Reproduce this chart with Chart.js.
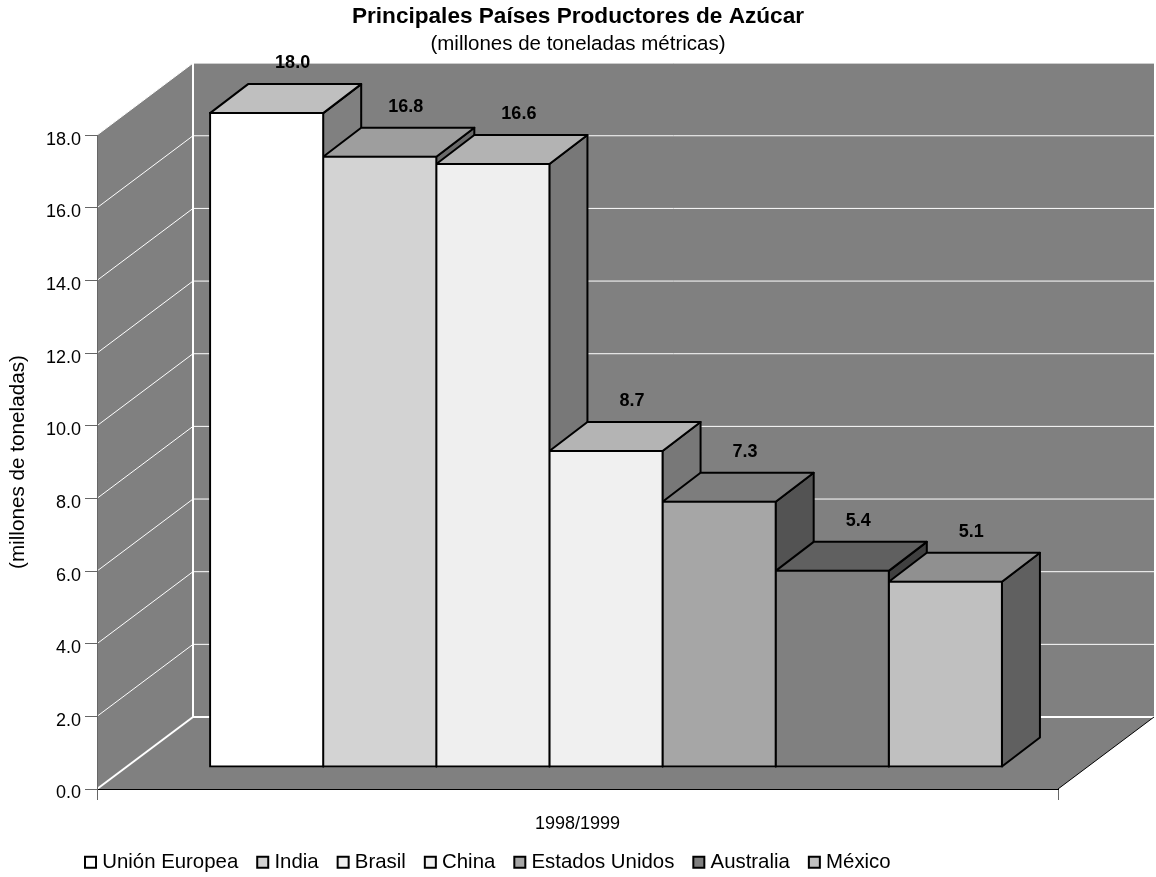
<!DOCTYPE html>
<html lang="es">
<head>
    <meta charset="UTF-8">
    <title>Principales Países Productores de Azúcar</title>
    <style>
        body { margin: 0; padding: 0; background-color: #ffffff; }
        canvas { display: block; }
    </style>
    <script src="https://cdn.jsdelivr.net/npm/chart.js"></script>
</head>
<body>
    <canvas id="sugarChart" width="1156" height="877"></canvas>

    <script>
        // Values
        const categories = ['1998/1999'];
        const countries = ['Unión Europea', 'India', 'Brasil', 'China', 'Estados Unidos', 'Australia', 'México'];
        const production = [18.0, 16.8, 16.6, 8.7, 7.3, 5.4, 5.1];
        const barColors = ['#ffffff', '#d3d3d3', '#efefef', '#f0f0f0', '#a6a6a6', '#808080', '#c0c0c0'];
        const yMin = 0;
        const yMax = 18;
        const yStep = 2;

        const FONT = "'Liberation Sans', Arial, sans-serif";

        // Depth of the fake 3D box and where the bars sit inside it
        const wallDX = 96, wallDY = 72;
        const barShiftX = 28.5, barShiftY = 22;
        const barDepthX = 38, barDepthY = 29;

        function shade(hex, f) {
            const n = parseInt(hex.slice(1), 16);
            const r = Math.round((n >> 16 & 255) * f);
            const g = Math.round((n >> 8 & 255) * f);
            const b = Math.round((n & 255) * f);
            return `rgb(${r},${g},${b})`;
        }

        function poly(ctx, pts, fill, stroke, lineWidth) {
            ctx.beginPath();
            pts.forEach((p, i) => i ? ctx.lineTo(p[0], p[1]) : ctx.moveTo(p[0], p[1]));
            ctx.closePath();
            if (fill) { ctx.fillStyle = fill; ctx.fill(); }
            if (stroke) { ctx.strokeStyle = stroke; ctx.lineWidth = lineWidth; ctx.stroke(); }
        }

        function line(ctx, x1, y1, x2, y2, color, lineWidth) {
            ctx.beginPath();
            ctx.moveTo(x1, y1);
            ctx.lineTo(x2, y2);
            ctx.strokeStyle = color;
            ctx.lineWidth = lineWidth;
            ctx.stroke();
        }

        const box3d = {
            id: 'box3d',
            afterLayout(chart) {
                // legend sits lower and further left than the default layout puts it
                chart.legend.left = 66;
                chart.legend.top = 829;
                // titles stay centred on the page, not on the padded area
                chart.boxes.filter(b => b.position === 'top').forEach(b => { b.right = chart.width; });
                // the tick label is clipped to the scale box, so let the box run on down
                chart.scales.x.bottom = chart.height;
            },
            // walls and floor, with the grid taken from the y scale
            beforeDraw(chart) {
                const { ctx, chartArea: a, scales: { y } } = chart;
                const zero = y.getPixelForValue(yMin);
                const top = y.getPixelForValue(yMax);
                ctx.save();
                poly(ctx, [[a.left, top], [a.left + wallDX, top - wallDY], [a.right + wallDX, top - wallDY],
                    [a.right + wallDX, zero - wallDY], [a.right, zero], [a.left, zero]], '#808080');
                y.ticks.forEach(t => {
                    const py = y.getPixelForValue(t.value);
                    if (t.value === yMin) return;
                    line(ctx, a.left, py, a.left + wallDX, py - wallDY, '#ffffff', 1);
                    line(ctx, a.left + wallDX, py - wallDY, a.right + wallDX, py - wallDY, '#ffffff', 1);
                });
                line(ctx, a.left + wallDX, top - wallDY, a.left + wallDX, zero - wallDY, '#ffffff', 2);
                line(ctx, a.left, zero, a.left + wallDX, zero - wallDY, '#ffffff', 2);
                line(ctx, a.left + wallDX, zero - wallDY, a.right + wallDX, zero - wallDY, '#ffffff', 2);
                line(ctx, a.right, zero, a.right + wallDX, zero - wallDY, '#000000', 1);
                ctx.restore();
            },
            // sides and tops go left to right, the native fronts then cover what they should
            beforeDatasetsDraw(chart) {
                const { ctx } = chart;
                ctx.save();
                ctx.lineJoin = 'round';
                chart.data.datasets.forEach((ds, i) => {
                    const bar = chart.getDatasetMeta(i).data[0];
                    const { x, y, width, base } = bar.getProps(['x', 'y', 'width', 'base']);
                    const l = x - width / 2 + barShiftX, r = x + width / 2 + barShiftX;
                    const t = y - barShiftY, b = base - barShiftY;
                    poly(ctx, [[r, t], [r + barDepthX, t - barDepthY], [r + barDepthX, b - barDepthY], [r, b]],
                        shade(ds.backgroundColor, 0.5), '#000000', 2);
                    poly(ctx, [[l, t], [l + barDepthX, t - barDepthY], [r + barDepthX, t - barDepthY], [r, t]],
                        shade(ds.backgroundColor, 0.75), '#000000', 2);
                });
                ctx.restore();
            },
            beforeDatasetDraw(chart) {
                chart.ctx.save();
                chart.ctx.translate(barShiftX, -barShiftY);
            },
            afterDatasetDraw(chart) {
                chart.ctx.restore();
            },
            // value labels above each bar
            afterDatasetsDraw(chart) {
                const { ctx } = chart;
                ctx.save();
                ctx.font = `bold 18px ${FONT}`;
                ctx.fillStyle = '#000000';
                ctx.textAlign = 'center';
                ctx.textBaseline = 'middle';
                chart.data.datasets.forEach((ds, i) => {
                    const bar = chart.getDatasetMeta(i).data[0];
                    ctx.fillText(ds.data[0].toFixed(1), bar.x + barShiftX + 26, bar.y - barShiftY - barDepthY - 21);
                });
                ctx.restore();
            }
        };

        const sugarChart = new Chart(document.getElementById('sugarChart').getContext('2d'), {
            type: 'bar',
            data: {
                labels: categories,
                datasets: countries.map((name, i) => ({
                    label: name,
                    data: [production[i]],
                    backgroundColor: barColors[i],
                    borderColor: '#000000',
                    borderWidth: 2,
                    borderSkipped: false,
                    inflateAmount: 1,
                    clip: false
                }))
            },
            plugins: [box3d],
            options: {
                responsive: false,
                animation: false,
                events: [],
                layout: { padding: { right: 98 } },
                categoryPercentage: 0.824,
                barPercentage: 1,
                scales: {
                    x: {
                        afterFit(scale) { scale.height = 88 - scale.chart.legend.height; },
                        grid: { offset: true, drawOnChartArea: false, color: '#666666', tickLength: 11 },
                        border: { color: '#000000' },
                        ticks: { color: '#000000', padding: 13, font: { size: 18, family: FONT } }
                    },
                    y: {
                        min: yMin,
                        max: yMax,
                        afterFit(scale) { scale.width = 97; },
                        title: {
                            display: true,
                            text: '(millones de toneladas)',
                            color: '#000000',
                            padding: { top: 5.6, bottom: 0 },
                            font: { size: 20.7, family: FONT }
                        },
                        grid: { drawOnChartArea: false, color: '#666666', tickLength: 12 },
                        border: { color: '#666666' },
                        ticks: {
                            stepSize: yStep,
                            color: '#000000',
                            padding: 4,
                            labelOffset: 4.5,
                            font: { size: 18, family: FONT },
                            callback: v => v.toFixed(1)
                        }
                    }
                },
                plugins: {
                    title: {
                        display: true,
                        text: 'Principales Países Productores de Azúcar',
                        color: '#000000',
                        padding: { top: 3, bottom: 1.7 },
                        font: { size: 22.6, weight: 'bold', family: FONT }
                    },
                    subtitle: {
                        display: true,
                        text: '(millones de toneladas métricas)',
                        color: '#000000',
                        padding: { top: 0, bottom: 78.7 },
                        font: { size: 20.5, family: FONT }
                    },
                    legend: {
                        position: 'bottom',
                        align: 'start',
                        labels: {
                            color: '#000000',
                            padding: 23,
                            usePointStyle: true,
                            pointStyle: 'rect',
                            // narrow box width pulls the text close to the square
                            boxWidth: 3,
                            boxHeight: 11,
                            font: { size: 20.4, family: FONT },
                            generateLabels(chart) {
                                return chart.data.datasets.map((ds, i) => ({
                                    text: ds.label,
                                    fillStyle: ds.backgroundColor,
                                    strokeStyle: '#000000',
                                    lineWidth: 2,
                                    pointStyle: 'rect',
                                    datasetIndex: i,
                                    fontColor: '#000000'
                                }));
                            }
                        }
                    },
                    tooltip: { enabled: false }
                }
            }
        });
    </script>
</body>
</html>
